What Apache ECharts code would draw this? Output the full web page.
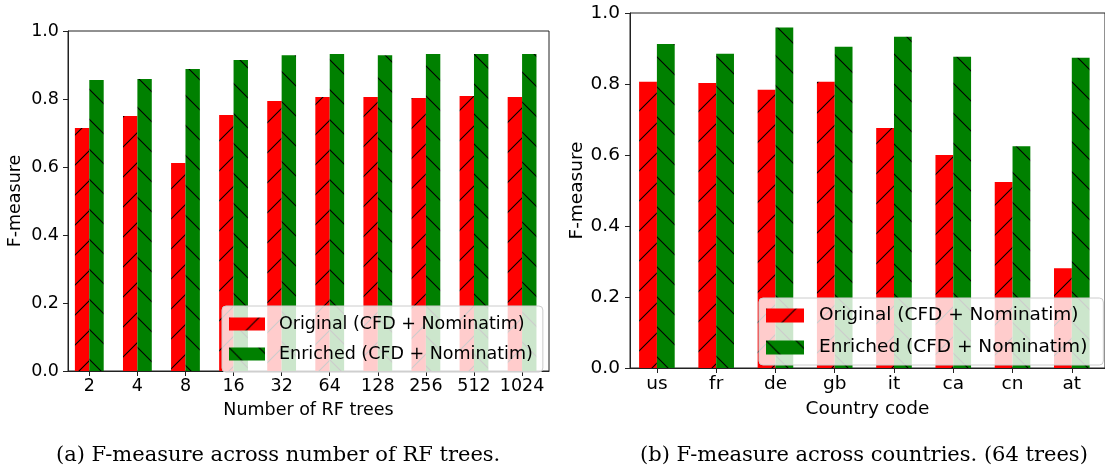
<!DOCTYPE html>
<html>
<head>
<meta charset="utf-8">
<script src="https://cdn.jsdelivr.net/npm/echarts@6/dist/echarts.min.js"></script>
<style>
  html, body { margin: 0; padding: 0; background: #fff; }
  #chart { width: 1105px; height: 468px; }
</style>
</head>
<body>
<div id="chart"></div>
<script>
// F-measure by number of random-forest trees
const treeCounts = ['2', '4', '8', '16', '32', '64', '128', '256', '512', '1024'];
const originalByTrees = [0.715, 0.750, 0.612, 0.753, 0.794, 0.806, 0.806, 0.803, 0.809, 0.806];
const enrichedByTrees = [0.856, 0.859, 0.888, 0.915, 0.929, 0.932, 0.929, 0.932, 0.932, 0.932];

// F-measure by country (64 trees)
const countries = ['us', 'fr', 'de', 'gb', 'it', 'ca', 'cn', 'at'];
const originalByCountry = [0.806, 0.803, 0.784, 0.806, 0.676, 0.600, 0.524, 0.281];
const enrichedByCountry = [0.913, 0.885, 0.959, 0.905, 0.933, 0.877, 0.625, 0.874];

const seriesNames = ['Original (CFD + Nominatim)', 'Enriched (CFD + Nominatim)'];
const captions = ['(a) F-measure across number of RF trees.', '(b) F-measure across countries. (64 trees)'];

const SANS = '"DejaVu Sans", sans-serif';
const SERIF = '"DejaVu Serif", serif';

// Solid fill with sparse diagonal hatch lines ('/' or '\')
function hatch(fill, dir) {
  const s = 30;
  const c = document.createElement('canvas');
  c.width = s; c.height = s;
  const g = c.getContext('2d');
  g.fillStyle = fill;
  g.fillRect(0, 0, s, s);
  g.strokeStyle = '#000';
  g.lineWidth = 1.1;
  g.beginPath();
  for (let k = -1; k <= 1; k++) {
    if (dir === '/') {
      g.moveTo(-2, s + 2 + k * s); g.lineTo(s + 2, -2 + k * s);
    } else {
      g.moveTo(-2, -2 + k * s); g.lineTo(s + 2, s + 2 + k * s);
    }
  }
  g.stroke();
  return { image: c, repeat: 'repeat' };
}
const redHatch = hatch('#ff0000', '/');
const greenHatch = hatch('#008000', '\\');

const indices = n => Array.from({ length: n }, (_, i) => i);

function xAxisFor(gridIndex, labels, min, max, fontSize, labelMargin, name, nameGap) {
  const ticks = indices(labels.length);
  return {
    type: 'value', gridIndex, min, max,
    splitLine: { show: false },
    axisLine: { show: true, onZero: false, lineStyle: { color: '#222', width: 1 } },
    axisTick: { show: true, length: 5, customValues: ticks, lineStyle: { color: '#222' } },
    axisLabel: {
      customValues: ticks, margin: labelMargin,
      formatter: v => labels[Math.round(v)],
      fontFamily: SANS, fontSize, color: '#000'
    },
    name, nameLocation: 'middle', nameGap,
    nameTextStyle: { fontFamily: SANS, fontSize, color: '#000' }
  };
}

function yAxisFor(gridIndex, fontSize, labelMargin, nameGap) {
  return {
    type: 'value', gridIndex, min: 0, max: 1, interval: 0.2,
    splitLine: { show: false },
    axisLine: { show: true, onZero: false, lineStyle: { color: '#222', width: 1 } },
    axisTick: { show: true, length: 5, lineStyle: { color: '#222' } },
    axisLabel: { formatter: v => v.toFixed(1), margin: labelMargin, fontFamily: SANS, fontSize, color: '#000' },
    name: 'F-measure', nameLocation: 'middle', nameGap,
    nameTextStyle: { fontFamily: SANS, fontSize, color: '#000' }
  };
}

function barSeries(name, values, axisIndex, width, color) {
  return {
    type: 'bar', name, xAxisIndex: axisIndex, yAxisIndex: axisIndex,
    data: values.map((v, i) => [i, v]),
    barWidth: width, barGap: '0%',
    itemStyle: { color },
    emphasis: { disabled: true },
    animation: false
  };
}

function legendFor(left, top, iconW, iconH, gap, fontSize, padding, textPad) {
  return {
    data: seriesNames, orient: 'vertical', left, top,
    icon: 'rect', itemWidth: iconW, itemHeight: iconH, itemGap: gap,
    padding, backgroundColor: 'rgba(255,255,255,0.8)',
    borderColor: '#cccccc', borderWidth: 1, borderRadius: 4,
    selectedMode: false,
    textStyle: { fontFamily: SANS, fontSize, color: '#000', padding: [0, 0, 0, textPad] }
  };
}

const chart = echarts.init(document.getElementById('chart'), null, { renderer: 'canvas' });
chart.setOption({
  animation: false,
  backgroundColor: '#fff',
  grid: [
    { left: 68, top: 31, width: 481, height: 340, show: true, borderColor: '#222', borderWidth: 1 },
    { left: 630, top: 13, width: 476, height: 355, show: true, borderColor: '#222', borderWidth: 1 }
  ],
  xAxis: [
    xAxisFor(0, treeCounts, -0.443, 9.56, 17.5, 6, 'Number of RF trees', 30),
    xAxisFor(1, countries, -0.454, 7.56, 18.5, 7, 'Country code', 32)
  ],
  yAxis: [
    yAxisFor(0, 17.5, 9, 44),
    yAxisFor(1, 18.5, 10, 42)
  ],
  legend: [
    legendFor(222, 306, 36, 13, 12, 17.5, [9, 10, 9, 7], 9),
    legendFor(759, 298, 38, 14, 13, 18.5, [8, 16, 8, 7], 10)
  ],
  title: [
    { text: captions[0], left: 56, top: 445, padding: 0,
      textStyle: { fontFamily: SERIF, fontSize: 21, fontWeight: 'normal', color: '#000' } },
    { text: captions[1], left: 640, top: 445, padding: 0,
      textStyle: { fontFamily: SERIF, fontSize: 21, fontWeight: 'normal', color: '#000' } }
  ],
  series: [
    barSeries(seriesNames[0], originalByTrees, 0, 14.4, redHatch),
    barSeries(seriesNames[1], enrichedByTrees, 0, 14.4, greenHatch),
    barSeries(seriesNames[0], originalByCountry, 1, 17.8, redHatch),
    barSeries(seriesNames[1], enrichedByCountry, 1, 17.8, greenHatch)
  ]
});
</script>
</body>
</html>
